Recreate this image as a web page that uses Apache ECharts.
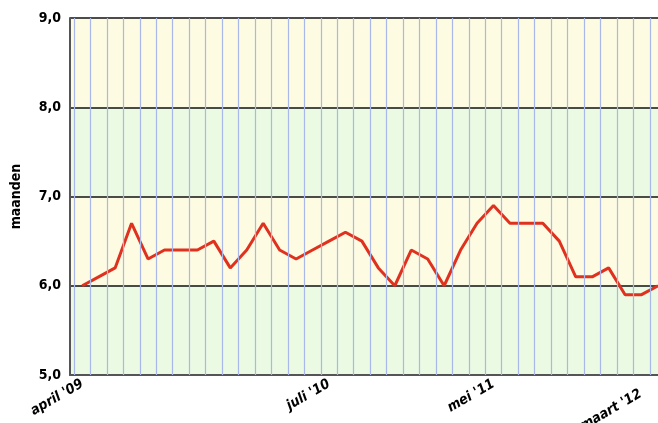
<!DOCTYPE html>
<html>
<head>
<meta charset="utf-8">
<script src="https://cdn.jsdelivr.net/npm/echarts@6/dist/echarts.min.js"></script>
<style>
html,body{margin:0;padding:0;background:#fff;}
#chart{width:658px;height:423px;}
</style>
</head>
<body>
<div id="chart"></div>
<script>
// Months from april '09 to maart '12
const months = ["april '09","mei '09","juni '09","juli '09","augustus '09","september '09","oktober '09","november '09","december '09",
  "januari '10","februari '10","maart '10","april '10","mei '10","juni '10","juli '10","augustus '10","september '10","oktober '10","november '10","december '10",
  "januari '11","februari '11","maart '11","april '11","mei '11","juni '11","juli '11","augustus '11","september '11","oktober '11","november '11","december '11",
  "januari '12","februari '12","maart '12"];
const values = [6.0,6.1,6.2,6.7,6.3,6.4,6.4,6.4,6.5,6.2,6.4,6.7,6.4,6.3,6.4,6.5,6.6,6.5,6.2,6.0,6.4,6.3,6.0,6.4,6.7,6.9,6.7,6.7,6.7,6.5,6.1,6.1,6.2,5.9,5.9,6.0];
const labelIndices = [0,15,25,35];
const yTicks = [5,6,7,8,9];

const font = "'Liberation Sans Narrow','DejaVu Sans Condensed',sans-serif";
const lineData = values.map((v,i)=>[i,v]);
const boundaries = months.map((m,i)=>i-0.5);
const lastIdx = months.length-1;

const chart = echarts.init(document.getElementById('chart'), null, {renderer:'canvas'});
chart.setOption({
  animation:false,
  grid:{left:70,right:0,top:18,bottom:48,containLabel:false,outerBoundsMode:'none'},
  xAxis:{
    type:'value',
    min:-0.5-4/16.45,
    max:lastIdx,
    axisLine:{show:true,onZero:false,lineStyle:{color:'#555',width:2}},
    axisTick:{show:false},
    splitLine:{show:false},
    axisLabel:{
      customValues:labelIndices,
      formatter:v=>{const i=Math.round(v);return i===lastIdx?'{e|'+months[i]+'}':months[i];},
      rich:{e:{padding:[0,20,0,0],fontFamily:font,fontWeight:'bold',fontStyle:'italic',fontSize:14,color:'#000'}},
      rotate:30,
      fontFamily:font,fontWeight:'bold',fontStyle:'italic',fontSize:14,color:'#000',
      margin:8,hideOverlap:false
    }
  },
  yAxis:{
    type:'value',min:yTicks[0],max:yTicks[yTicks.length-1],interval:1,
    name:'maanden',nameLocation:'middle',nameGap:47,nameRotate:90,
    nameTextStyle:{fontFamily:font,fontWeight:'bold',fontSize:14,color:'#000'},
    axisLine:{show:true,onZero:false,lineStyle:{color:'#555',width:2}},
    axisTick:{show:false},
    axisLabel:{formatter:v=>v.toFixed(1).replace('.',','),fontFamily:font,fontWeight:'bold',fontSize:14,color:'#000',margin:9},
    splitLine:{show:true,lineStyle:{color:'#111',width:1.5}},
    splitArea:{show:true,areaStyle:{color:['#eafae3','#fdfbe2']}}
  },
  series:[
    {
      type:'line',data:[],silent:true,z:1,
      markLine:{
        silent:true,symbol:['none','none'],animation:false,
        label:{show:false},
        lineStyle:{type:'solid',color:'#a9b8e8',width:1.2},
        data:boundaries.map(b=>({xAxis:b}))
      }
    },
    {
      type:'line',data:lineData,z:3,
      showSymbol:false,symbol:'none',
      lineStyle:{color:'#e0301e',width:3},
      itemStyle:{color:'#e0301e'}
    }
  ]
});
</script>
</body>
</html>
